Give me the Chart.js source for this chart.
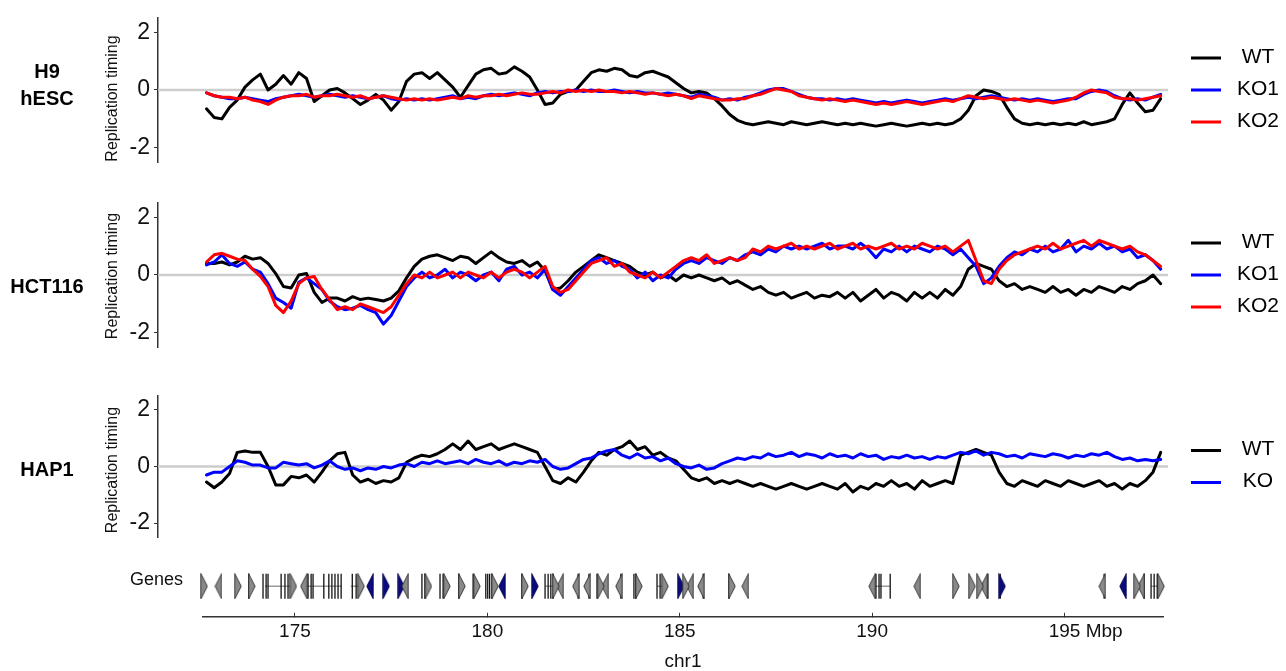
<!DOCTYPE html>
<html>
<head>
<meta charset="utf-8">
<title>Replication timing, chr1</title>
<script src="https://cdn.jsdelivr.net/npm/chart.js@4.4.1/dist/chart.umd.min.js"></script>
<style>
  html, body { margin: 0; padding: 0; background: #fff; }
  #page { position: relative; width: 1286px; height: 671px; overflow: hidden; background: #fff; }
  #page canvas { position: absolute; left: 0; }
</style>
</head>
<body>
<div id="page">
  <canvas id="panelH9"></canvas>
  <canvas id="panelHCT116"></canvas>
  <canvas id="panelHAP1"></canvas>
  <canvas id="genes"></canvas>
</div>
<script>
// ---- genomic bins (Mbp, chr1) ----
const binStartMbp = 172.7;
const binStepMbp = 0.2;
const binCount = 125;
const binMbp = Array.from({ length: binCount }, (_, i) => +(binStartMbp + i * binStepMbp).toFixed(2));

// ---- replication timing, H9 hESC ----
const h9WT = [
  -0.65, -0.95, -1.0, -0.6, -0.35, 0.1, 0.35, 0.55, 0.0, 0.2, 0.5, 0.2, 0.6, 0.4, -0.4, -0.2, 0.0,
  0.05, -0.1, -0.3, -0.5, -0.35, -0.15, -0.35, -0.7, -0.4, 0.3,
  0.55, 0.6, 0.4, 0.6, 0.35, 0.1, -0.25, 0.15, 0.55, 0.7,
  0.75, 0.55, 0.6, 0.8, 0.65, 0.45, 0.0, -0.5, -0.45, -0.15,
  -0.05, 0.0, 0.3, 0.6, 0.7, 0.65, 0.75, 0.7, 0.5, 0.45,
  0.6, 0.65, 0.55, 0.45, 0.25, 0.05, -0.1, -0.05, -0.1, -0.3,
  -0.55, -0.85, -1.05, -1.15, -1.2, -1.15, -1.1, -1.15, -1.2, -1.1,
  -1.15, -1.2, -1.15, -1.1, -1.15, -1.2, -1.15, -1.2, -1.15, -1.2,
  -1.25, -1.2, -1.15, -1.2, -1.25, -1.2, -1.15, -1.2, -1.15, -1.2,
  -1.15, -1.0, -0.7, -0.2, 0.0, -0.05, -0.15, -0.6, -1.0, -1.15,
  -1.2, -1.15, -1.2, -1.15, -1.2, -1.15, -1.2, -1.1, -1.2, -1.15,
  -1.1, -1.0, -0.5, -0.1, -0.45, -0.75, -0.7, -0.3
];
const h9KO1 = [
  -0.1, -0.2, -0.25, -0.3, -0.3, -0.25, -0.3, -0.35, -0.4, -0.3,
  -0.25, -0.2, -0.15, -0.2, -0.25, -0.2, -0.15, -0.2, -0.25, -0.2,
  -0.25, -0.3, -0.25, -0.2, -0.3, -0.35, -0.3, -0.35, -0.3, -0.35,
  -0.3, -0.25, -0.2, -0.3, -0.25, -0.3, -0.2, -0.15, -0.2, -0.15,
  -0.1, -0.15, -0.2, -0.1, -0.05, -0.1, -0.05, -0.05, 0.0, -0.05,
  0.0, -0.05, -0.05, 0.0, -0.05, -0.1, -0.05, -0.1, -0.1, -0.15,
  -0.1, -0.15, -0.2, -0.25, -0.15, -0.2, -0.25, -0.35, -0.3, -0.35,
  -0.25, -0.2, -0.1, 0.0, 0.05, 0.05, -0.05, -0.15, -0.25, -0.3,
  -0.3, -0.35, -0.3, -0.35, -0.3, -0.35, -0.4, -0.45, -0.4, -0.45,
  -0.4, -0.35, -0.4, -0.45, -0.4, -0.35, -0.3, -0.35, -0.3, -0.25,
  -0.3, -0.25, -0.2, -0.25, -0.3, -0.35, -0.3, -0.35, -0.3, -0.35,
  -0.4, -0.35, -0.3, -0.3, -0.15, -0.05, 0.0, -0.05, -0.2, -0.3,
  -0.35, -0.3, -0.35, -0.25, -0.15
];
const h9KO2 = [
  -0.1, -0.2, -0.25, -0.25, -0.3, -0.25, -0.35, -0.4, -0.5, -0.35,
  -0.25, -0.2, -0.2, -0.15, -0.25, -0.2, -0.2, -0.15, -0.2, -0.25,
  -0.2, -0.3, -0.25, -0.2, -0.25, -0.3, -0.35, -0.3, -0.35, -0.3,
  -0.35, -0.3, -0.25, -0.3, -0.2, -0.25, -0.2, -0.2, -0.15, -0.2,
  -0.15, -0.1, -0.15, -0.15, -0.1, -0.05, -0.1, 0.0, -0.05, 0.0,
  -0.05, 0.0, -0.05, -0.05, -0.1, -0.05, -0.1, -0.15, -0.1, -0.15,
  -0.2, -0.15, -0.2, -0.3, -0.2, -0.25, -0.3, -0.35, -0.35, -0.3,
  -0.3, -0.2, -0.15, -0.05, 0.05, 0.0, -0.05, -0.2, -0.25, -0.3,
  -0.35, -0.3, -0.35, -0.4, -0.35, -0.4, -0.45, -0.5, -0.45, -0.5,
  -0.45, -0.4, -0.45, -0.5, -0.45, -0.4, -0.35, -0.4, -0.3, -0.2,
  -0.25, -0.3, -0.25, -0.3, -0.35, -0.3, -0.35, -0.4, -0.35, -0.4,
  -0.45, -0.4, -0.35, -0.25, -0.1, 0.0, -0.05, -0.1, -0.25, -0.3,
  -0.3, -0.35, -0.3, -0.25, -0.2
];

// ---- replication timing, HCT116 ----
const hct116WT = [
  0.4, 0.4, 0.45, 0.35, 0.45, 0.65, 0.55, 0.6, 0.4, 0.05, -0.4, -0.45, 0.0, 0.05, -0.6, -0.95, -0.8,
  -0.8, -0.9, -0.75, -0.85, -0.8, -0.85, -0.9, -0.8, -0.55, -0.1,
  0.3, 0.55, 0.65, 0.7, 0.6, 0.5, 0.65, 0.6, 0.4, 0.6,
  0.8, 0.6, 0.45, 0.4, 0.5, 0.3, 0.45, 0.15, -0.5, -0.45,
  -0.2, 0.1, 0.3, 0.5, 0.7, 0.6, 0.5, 0.4, 0.3, 0.1,
  0.0, 0.1, -0.1, 0.0, -0.2, 0.0, -0.1, 0.0, -0.1, -0.2,
  -0.1, -0.3, -0.2, -0.35, -0.5, -0.4, -0.6, -0.7, -0.6, -0.8,
  -0.7, -0.6, -0.8, -0.7, -0.75, -0.6, -0.8, -0.6, -0.9, -0.7,
  -0.5, -0.8, -0.6, -0.7, -0.9, -0.6, -0.8, -0.6, -0.8, -0.5,
  -0.7, -0.4, 0.2, 0.4, 0.3, 0.2, -0.2, -0.4, -0.3, -0.5,
  -0.4, -0.5, -0.6, -0.4, -0.6, -0.5, -0.7, -0.5, -0.6, -0.4,
  -0.5, -0.6, -0.4, -0.5, -0.3, -0.2, 0.0, -0.3
];
const hct116KO1 = [
  0.35, 0.45, 0.7, 0.4, 0.3, 0.45, 0.2, 0.1, -0.3, -0.8, -0.95, -1.15, -0.25, -0.1, -0.3, -0.5, -0.9,
  -1.1, -1.2, -1.15, -1.05, -1.2, -1.3, -1.7, -1.4, -0.9, -0.4,
  -0.1, 0.1, -0.1, 0.0, 0.2, -0.1, 0.1, 0.0, -0.2, 0.0,
  0.1, -0.2, 0.2, 0.3, 0.0, 0.1, -0.1, 0.2, -0.5, -0.7,
  -0.4, -0.1, 0.2, 0.5, 0.6, 0.4, 0.5, 0.3, 0.2, -0.1,
  0.1, -0.2, 0.0, -0.1, 0.2, 0.4, 0.5, 0.4, 0.6, 0.5,
  0.4, 0.6, 0.5, 0.7, 0.8, 0.7, 0.9, 0.8, 1.0, 0.9,
  1.0, 0.9, 1.0, 1.1, 0.9, 1.0, 1.0, 0.9, 1.1, 0.9,
  0.6, 0.9, 0.8, 1.0, 0.8, 1.0, 0.9, 0.8, 1.0, 0.9,
  0.7, 0.9, 0.6, 0.3, -0.3, -0.1, 0.3, 0.6, 0.8, 0.7,
  0.9, 0.8, 1.0, 0.8, 0.9, 1.2, 0.8, 1.0, 0.9, 1.1,
  0.9, 1.0, 0.8, 0.9, 0.6, 0.7, 0.5, 0.2
];
const hct116KO2 = [
  0.45, 0.7, 0.75, 0.65, 0.55, 0.5, 0.2, -0.05, -0.4, -1.05, -1.3, -0.9, -0.3, -0.1, -0.05, -0.5, -0.85,
  -1.2, -1.1, -1.2, -1.0, -1.1, -1.2, -1.3, -1.1, -0.7, -0.3,
  0.0, -0.1, 0.1, -0.1, 0.0, 0.1, -0.1, 0.1, 0.0, -0.1,
  0.1, -0.1, 0.1, 0.2, 0.1, -0.1, 0.1, 0.3, -0.4, -0.6,
  -0.5, -0.2, 0.1, 0.4, 0.5, 0.6, 0.3, 0.4, 0.1, 0.0,
  -0.1, 0.1, -0.1, 0.1, 0.3, 0.5, 0.6, 0.5, 0.7, 0.4,
  0.5, 0.6, 0.5, 0.6, 0.9, 0.8, 1.0, 0.9, 1.0, 1.1,
  0.9, 1.0, 0.9, 1.0, 1.1, 0.9, 1.0, 1.1, 0.9, 1.0,
  0.9, 1.0, 1.1, 0.9, 1.0, 0.9, 1.1, 1.0, 0.9, 1.0,
  0.8, 1.0, 1.2, 0.5, -0.2, -0.3, 0.2, 0.5, 0.7, 0.8,
  0.9, 1.0, 0.9, 1.1, 0.9, 1.0, 1.1, 1.2, 1.0, 1.2,
  1.1, 1.0, 0.9, 1.0, 0.8, 0.7, 0.5, 0.3
];

// ---- replication timing, HAP1 ----
const hap1WT = [
  -0.55, -0.75, -0.55, -0.25, 0.5, 0.55, 0.5, 0.5, 0.0, -0.65, -0.65, -0.35, -0.4, -0.3, -0.55, -0.2, 0.2,
  0.45, 0.5, -0.3, -0.55, -0.45, -0.6, -0.5, -0.55, -0.4, 0.15,
  0.3, 0.4, 0.35, 0.45, 0.6, 0.8, 0.6, 0.9, 0.6, 0.7,
  0.8, 0.6, 0.7, 0.8, 0.7, 0.6, 0.5, 0.0, -0.5, -0.6,
  -0.4, -0.55, -0.2, 0.2, 0.5, 0.4, 0.6, 0.7, 0.9, 0.6,
  0.7, 0.4, 0.5, 0.3, 0.2, -0.1, -0.4, -0.5, -0.4, -0.6,
  -0.5, -0.6, -0.5, -0.6, -0.7, -0.6, -0.7, -0.8, -0.7, -0.6,
  -0.7, -0.8, -0.7, -0.6, -0.7, -0.8, -0.6, -0.9, -0.7, -0.8,
  -0.6, -0.7, -0.5, -0.7, -0.6, -0.8, -0.5, -0.7, -0.6, -0.5,
  -0.6, 0.4, 0.5, 0.6, 0.5, 0.4, -0.2, -0.6, -0.7, -0.5,
  -0.6, -0.7, -0.5, -0.6, -0.7, -0.5, -0.6, -0.7, -0.6, -0.5,
  -0.7, -0.6, -0.8, -0.6, -0.7, -0.5, -0.2, 0.5
];
const hap1KO = [
  -0.3, -0.2, -0.2, 0.0, 0.2, 0.15, 0.05, 0.05, -0.05, -0.05, 0.15, 0.1, 0.05, 0.1, -0.05, 0.05, 0.2,
  0.0, -0.1, -0.05, -0.15, -0.05, -0.1, 0.0, -0.05, 0.05, 0.1,
  0.0, 0.15, 0.1, 0.2, 0.1, 0.15, 0.2, 0.1, 0.25, 0.15,
  0.1, 0.2, 0.05, 0.15, 0.1, 0.2, 0.15, 0.25, 0.0, -0.1,
  -0.05, 0.1, 0.25, 0.3, 0.45, 0.55, 0.6, 0.4, 0.3, 0.45,
  0.3, 0.35, 0.2, 0.3, 0.1, 0.0, -0.05, 0.05, -0.1, -0.05,
  0.1, 0.2, 0.3, 0.25, 0.35, 0.3, 0.45, 0.35, 0.4, 0.5,
  0.35, 0.45, 0.4, 0.3, 0.45, 0.35, 0.4, 0.3, 0.45, 0.35,
  0.4, 0.25, 0.35, 0.3, 0.4, 0.3, 0.35, 0.25, 0.35, 0.3,
  0.4, 0.5, 0.45, 0.55, 0.4, 0.5, 0.45, 0.35, 0.4, 0.3,
  0.45, 0.4, 0.35, 0.45, 0.4, 0.3, 0.4, 0.35, 0.45, 0.4,
  0.5, 0.35, 0.25, 0.3, 0.2, 0.25, 0.2, 0.25
];

// ---- axes ----
const yTickValues = [-2, 0, 2];
const xTickMbp = [175, 180, 185, 190, 195];
const xUnit = 'Mbp';
const xTitle = 'chr1';
const yTitle = 'Replication timing';

// ---- gene track (Mbp) ----
const genesForward = [172.64, 173.52, 173.88, 174.96, 176.72, 178.47, 178.95, 179.34, 179.73, 180.20,
  180.98, 181.78, 182.95, 183.94, 184.62, 185.16, 186.36, 192.18, 192.60, 192.81, 196.89, 197.51];
const genesReverse = [173.01, 175.23, 177.86, 181.89, 182.30, 182.59, 183.06, 183.42, 185.27, 185.55,
  186.70, 190.00, 191.17, 192.91, 195.98, 196.99];
const genesForwardBlue = [177.37, 177.76, 181.24, 185.03, 193.38];
const genesReverseBlue = [176.95, 180.38, 196.52];
const exonMbp = [173.80, 174.17, 174.25, 174.30, 174.64, 174.74, 174.82, 175.34, 175.42, 175.47,
  175.75, 175.88, 175.96, 176.04, 176.12, 176.20, 176.49, 176.59, 178.30, 178.38, 178.77, 178.85,
  179.26, 179.63, 179.96, 180.01, 180.06, 180.12, 180.90, 181.50, 181.58, 181.65, 181.71, 182.36,
  182.64, 182.85, 183.47, 183.81, 183.86, 184.41, 184.49, 185.61, 186.28, 190.10, 190.18, 190.23,
  190.47, 193.01, 193.33, 196.03, 197.07, 197.25, 197.33, 197.41];
const intronSpans = [[174.22, 174.97], [175.23, 176.22], [176.45, 176.72], [181.50, 181.78],
  [184.41, 184.62], [190.00, 190.47], [197.25, 197.51]];
const genesLabel = 'Genes';

// ---- page layout (pixels) ----
const FONT = "'Liberation Sans', Arial, Helvetica, sans-serif";
const L = {
  width: 1286,
  axisX: 158,
  plotRight: 1168,
  panelMinMbp: 171.44,
  panelMaxMbp: 197.69,
  axisStartMbp: 172.61,
  axisEndMbp: 197.56,
  axisStartPx: 203,
  axisEndPx: 1163,
  rowLabelX: 47,
  rowLabelLeading: 27,
  yTitleX: 113,
  legendLineX: 1191,
  legendLineW: 30,
  legendTextX: 1258,
  legendSpacing: 32,
  genesLabelX: 130,
  genesLabelY: 580,
  geneCanvasTop: 555,
  geneCanvasHeight: 116,
  geneAreaTop: 560,
  axisLineY: 616.8,
  xTickLength: -4,
  xTickPadding: 8,
  xTickFontSize: 19,
  yTickFontSize: 23
};

const COLORS = { WT: '#000000', KO: '#0000ff', KO1: '#0000ff', KO2: '#ff0000' };

const panels = [
  { id: 'panelH9', rowLabel: ['H9', 'hESC'], series: [['WT', h9WT], ['KO1', h9KO1], ['KO2', h9KO2]],
    canvasTop: 0, canvasHeight: 180, areaTop: 10.3, areaBottom: 164.4, rowLabelBaseline: 78, yTitleCenter: 98.5 },
  { id: 'panelHCT116', rowLabel: ['HCT116'], series: [['WT', hct116WT], ['KO1', hct116KO1], ['KO2', hct116KO2]],
    canvasTop: 185, canvasHeight: 180, areaTop: 198.6, areaBottom: 352.7, rowLabelBaseline: 293, yTitleCenter: 276 },
  { id: 'panelHAP1', rowLabel: ['HAP1'], series: [['WT', hap1WT], ['KO', hap1KO]],
    canvasTop: 378, canvasHeight: 177, areaTop: 392.9, areaBottom: 547.1, rowLabelBaseline: 476, yTitleCenter: 470 }
];

// Row label, rotated axis title and the line legend at the right of each panel
const panelDecor = {
  id: 'panelDecor',
  afterDraw(chart, args, opts) {
    const ctx = chart.ctx;
    const top = opts.canvasTop;
    ctx.save();
    ctx.fillStyle = '#000';
    ctx.textAlign = 'center';
    ctx.textBaseline = 'alphabetic';
    ctx.font = `bold 20px ${FONT}`;
    opts.rowLabel.forEach((t, i) => ctx.fillText(t, L.rowLabelX, opts.rowLabelBaseline - top + i * L.rowLabelLeading));

    ctx.save();
    ctx.translate(L.yTitleX, opts.yTitleCenter - top);
    ctx.rotate(-Math.PI / 2);
    ctx.font = `16px ${FONT}`;
    ctx.textBaseline = 'middle';
    ctx.fillStyle = '#111';
    ctx.fillText(yTitle, 0, 0);
    ctx.restore();

    const zero = chart.scales.y.getPixelForValue(0);
    const items = chart.data.datasets.filter(d => d.inLegend);
    ctx.font = `21px ${FONT}`;
    ctx.textBaseline = 'middle';
    items.forEach((d, i) => {
      const y = zero + (i - (items.length - 1) / 2) * L.legendSpacing;
      ctx.fillStyle = d.borderColor;
      ctx.fillRect(L.legendLineX, y - 1.5, L.legendLineW, 3);
      ctx.fillStyle = '#000';
      ctx.fillText(d.label, L.legendTextX, y - 1);
    });
    ctx.restore();
  }
};

function buildPanel(p) {
  const canvas = document.getElementById(p.id);
  canvas.width = L.width;
  canvas.height = p.canvasHeight;
  canvas.style.top = p.canvasTop + 'px';

  const datasets = [{
    label: 'zero',
    data: [{ x: L.panelMinMbp, y: 0 }, { x: L.panelMaxMbp, y: 0 }],
    borderColor: '#cdcdcd',
    borderWidth: 2.5,
    pointRadius: 0,
    order: 10,
    inLegend: false
  }];
  p.series.forEach(([name, values], i) => {
    datasets.push({
      label: name,
      data: binMbp.map((x, j) => ({ x, y: values[j] })),
      borderColor: COLORS[name],
      borderWidth: 3,
      borderJoinStyle: 'round',
      borderCapStyle: 'round',
      pointRadius: 0,
      tension: 0,
      order: p.series.length - i,
      inLegend: true
    });
  });

  return new Chart(canvas, {
    type: 'line',
    data: { datasets },
    options: {
      responsive: false,
      animation: false,
      events: [],
      layout: { padding: { left: 0, right: L.width - L.plotRight, top: p.areaTop - p.canvasTop, bottom: p.canvasTop + p.canvasHeight - p.areaBottom } },
      plugins: {
        legend: { display: false },
        tooltip: { enabled: false },
        panelDecor: { canvasTop: p.canvasTop, rowLabel: p.rowLabel, rowLabelBaseline: p.rowLabelBaseline, yTitleCenter: p.yTitleCenter }
      },
      scales: {
        x: { type: 'linear', min: L.panelMinMbp, max: L.panelMaxMbp, display: false },
        y: {
          type: 'linear', position: 'left', min: -2.5, max: 2.5,
          afterFit(s) { s.width = L.axisX; },
          afterBuildTicks(s) { s.ticks = yTickValues.map(v => ({ value: v })); },
          ticks: { font: { family: FONT, size: L.yTickFontSize }, color: '#111', padding: 4, callback: v => String(v) },
          grid: { drawOnChartArea: false, drawTicks: true, tickLength: 4, color: '#333', lineWidth: 1 },
          border: { display: true, color: '#333', width: 1.5 }
        }
      }
    },
    plugins: [panelDecor]
  });
}

panels.forEach(buildPanel);

// ---- gene glyphs: narrow arrowheads pointing along the strand ----
function arrowGlyph(dir, fill, edge) {
  const c = document.createElement('canvas');
  c.width = 8; c.height = 26;
  const g = c.getContext('2d');
  g.beginPath();
  if (dir > 0) { g.moveTo(0.8, 0.5); g.lineTo(7.2, 13); g.lineTo(0.8, 25.5); }
  else { g.moveTo(7.2, 0.5); g.lineTo(0.8, 13); g.lineTo(7.2, 25.5); }
  g.closePath();
  g.fillStyle = fill; g.fill();
  g.strokeStyle = edge; g.lineWidth = 0.9; g.stroke();
  return c;
}
const glyphFwd = arrowGlyph(1, '#8a8a8a', '#2e2e2e');
const glyphRev = arrowGlyph(-1, '#8a8a8a', '#2e2e2e');
const glyphFwdBlue = arrowGlyph(1, '#0b0b80', '#05054a');
const glyphRevBlue = arrowGlyph(-1, '#0b0b80', '#05054a');

const intronPoints = [];
intronSpans.forEach(([s, e]) => { intronPoints.push({ x: s, y: 0 }, { x: e, y: 0 }, { x: e, y: null }); });

const toPts = arr => arr.map(x => ({ x, y: 0 }));

// "Genes" label and the unit after the last position tick
const geneDecor = {
  id: 'geneDecor',
  afterDraw(chart) {
    const ctx = chart.ctx;
    ctx.save();
    ctx.fillStyle = '#111';
    ctx.font = `18px ${FONT}`;
    ctx.textAlign = 'left';
    ctx.textBaseline = 'middle';
    ctx.fillText(genesLabel, L.genesLabelX, L.genesLabelY - L.geneCanvasTop);

    const xs = chart.scales.x;
    const last = xTickMbp[xTickMbp.length - 1];
    const px = xs.getPixelForValue(last);
    ctx.font = `${L.xTickFontSize}px ${FONT}`;
    const w = ctx.measureText(String(last)).width;
    const y = xs.top + L.xTickLength + L.xTickPadding + L.xTickFontSize * 1.2 / 2;
    ctx.fillText(' ' + xUnit, px + w / 2, y);
    ctx.restore();
  }
};

(function buildGenes() {
  const canvas = document.getElementById('genes');
  canvas.width = L.width;
  canvas.height = L.geneCanvasHeight;
  canvas.style.top = L.geneCanvasTop + 'px';
  const xAxisHeight = L.geneCanvasTop + L.geneCanvasHeight - L.axisLineY;

  const glyphSet = (pts, style) => ({
    data: toPts(pts), pointStyle: style, pointRadius: 4, clip: false, order: 1
  });

  new Chart(canvas, {
    type: 'scatter',
    data: {
      datasets: [
        { type: 'line', data: intronPoints, borderColor: '#9a9a9a', borderWidth: 1.4, pointRadius: 0, spanGaps: false, clip: false, order: 5 },
        { data: toPts(exonMbp), pointStyle: 'line', pointRotation: 90, pointRadius: 12.5,
          pointBorderColor: '#111', borderColor: '#111', pointBorderWidth: 1.3, borderWidth: 1.3, clip: false, order: 4 },
        glyphSet(genesForward, glyphFwd),
        glyphSet(genesReverse, glyphRev),
        glyphSet(genesForwardBlue, glyphFwdBlue),
        glyphSet(genesReverseBlue, glyphRevBlue)
      ]
    },
    options: {
      responsive: false,
      animation: false,
      events: [],
      layout: { padding: { left: L.axisStartPx, right: L.width - L.axisEndPx, top: L.geneAreaTop - L.geneCanvasTop, bottom: 0 } },
      plugins: { legend: { display: false }, tooltip: { enabled: false } },
      scales: {
        x: {
          type: 'linear', position: 'bottom', min: L.axisStartMbp, max: L.axisEndMbp,
          afterBuildTicks(s) { s.ticks = xTickMbp.map(v => ({ value: v })); },
          afterFit(s) { s.height = xAxisHeight; },
          ticks: { font: { family: FONT, size: L.xTickFontSize }, color: '#111', padding: L.xTickPadding, maxRotation: 0, autoSkip: false, callback: v => String(v) },
          grid: { drawOnChartArea: false, drawTicks: true, tickLength: L.xTickLength, color: '#333', lineWidth: 1 },
          border: { display: true, color: '#333', width: 1.5 },
          title: { display: true, text: xTitle, color: '#111', font: { family: FONT, size: 19, lineHeight: 1 }, padding: 0 }
        },
        y: { type: 'linear', min: -1.75, max: 1, display: false }
      }
    },
    plugins: [geneDecor]
  });
})();
</script>
</body>
</html>
